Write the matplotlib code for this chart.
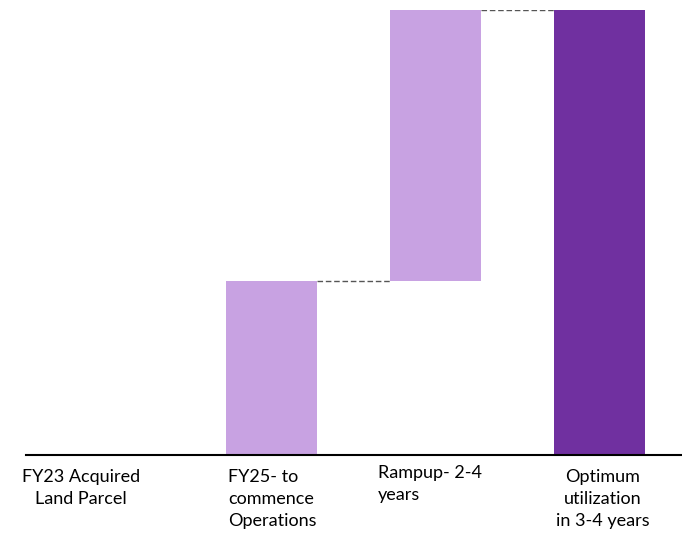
import matplotlib.pyplot as plt

# waterfall steps (relative units, total = 100)
categories = ['FY23 Acquired\nLand Parcel', 'FY25- to\ncommence\nOperations',
              'Rampup- 2-4\nyears', 'Optimum\nutilization\nin 3-4 years']
steps = [0, 39, 61]
total = sum(steps)

light = '#C8A2E2'
dark = '#7030A0'

W, H = 682, 541
fig = plt.figure(figsize=(W / 100, H / 100), dpi=100)
ax = fig.add_axes([25.5 / W, 86 / H, (W - 25.5) / W, (455 - 10) / H])

bottoms = []
run = 0
for v in steps:
    bottoms.append(run)
    run += v

width = 91 / 164
xs = list(range(len(categories)))
ax.bar(xs[:3], steps, bottom=bottoms, width=width, color=light, zorder=2)
ax.bar(xs[3], total, width=width, color=dark, zorder=2)

# connectors between steps
tops = [b + v for b, v in zip(bottoms, steps)]
for i in (1, 2):
    ax.plot([i + width / 2, i + 1 - width / 2], [tops[i], tops[i]],
            ls=(0, (4, 2)), color='#555555', lw=1, zorder=1)

ax.set_xlim(-0.5, 3.5)
ax.set_ylim(0, total)
for s in ['top', 'right', 'left']:
    ax.spines[s].set_visible(False)
ax.spines['bottom'].set_linewidth(1.5)
ax.set_xticks([])
ax.set_yticks([])

# text boxes under the axis, placed like the slide
label_pos = [(-0.16, 'center', -14), (0.735, 'left', -14),
             (1.649, 'left', -10), (3.015, 'center', -14)]
for lab, (x, ha, dy) in zip(categories, label_pos):
    ax.annotate(lab, (x, 0), xytext=(0, dy), textcoords='offset pixels',
                ha=ha, va='top', fontsize=13, family='Lato',
                linespacing=1.45, color='black', multialignment=ha)

fig.savefig('out.png', dpi=100)
